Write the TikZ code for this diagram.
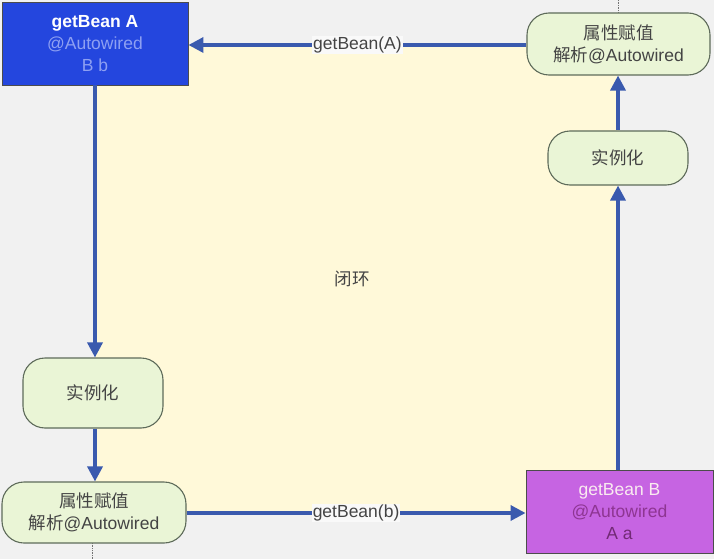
\documentclass[tikz,border=0pt]{standalone}
\usepackage{fontspec}
\setmainfont{Liberation Sans}
\newfontfamily\cjk{Noto Sans CJK SC}
\usetikzlibrary{arrows.meta}
\definecolor{bggray}{HTML}{F1F1F1}
\definecolor{loopyellow}{HTML}{FFF9D9}
\definecolor{stepgreen}{HTML}{EAF5D6}
\definecolor{stepborder}{HTML}{5E6B5A}
\definecolor{beanblue}{HTML}{2446DE}
\definecolor{beanbluetext}{HTML}{8EA0F2}
\definecolor{beanpurple}{HTML}{C664E2}
\definecolor{beanpurpletext}{HTML}{8E3592}
\definecolor{arrowblue}{HTML}{3A5AAE}
\definecolor{labelgray}{HTML}{444444}
\tikzset{
  x=1pt, y=-1pt,
  stepbox/.style={draw=stepborder, line width=1.1pt, fill=stepgreen, rounded corners=22pt,
    font=\fontsize{17.5}{22}\selectfont, text=labelgray, align=center, inner sep=0pt},
  beanbox/.style={draw=black!70, line width=0.9pt, align=center, inner sep=0pt,
    font=\fontsize{17.5}{22}\selectfont},
  flow/.style={draw=arrowblue, line width=3.4pt, -{Triangle[length=15pt,width=15pt]}},
  flowlabel/.style={fill=bggray!40!white, font=\fontsize{17.5}{21}\selectfont, text=labelgray, inner sep=1pt},
}
\begin{document}
\begin{tikzpicture}
\useasboundingbox (0,0) rectangle (720,559);
\fill[bggray] (0,0) rectangle (720,559);
\fill[white] (714,0) rectangle (720,559);
\fill[loopyellow] (95,45) rectangle (618,513);
\draw[densely dotted, black!55, line width=0.7pt] (618,0) -- (618,13);
\draw[densely dotted, black!55, line width=0.7pt] (92,543) -- (92,559);

\node[beanbox, fill=beanblue, minimum width=186pt, minimum height=83pt] (beanA) at (95,43.5)
  {\textbf{\textcolor{white}{getBean A}}\\\textcolor{beanbluetext}{@Autowired}\\\textcolor{beanbluetext}{B b}};
\node[stepbox, minimum width=183pt, minimum height=62pt] (attrTR) at (618.5,44)
  {{\cjk 属性赋值}\\{\cjk 解析}@Autowired};
\node[stepbox, minimum width=140pt, minimum height=54pt] (instTR) at (618,158)
  {\cjk 实例化};
\node[stepbox, minimum width=140pt, minimum height=70pt] (instL) at (93,393)
  {\cjk 实例化};
\node[stepbox, minimum width=184pt, minimum height=61pt] (attrL) at (94,512.5)
  {{\cjk 属性赋值}\\{\cjk 解析}@Autowired};
\node[beanbox, fill=beanpurple, minimum width=187pt, minimum height=83pt] (beanB) at (619.5,511.5)
  {\textcolor{white!92!purple}{getBean B}\\\textcolor{beanpurpletext}{@Autowired}\\\textcolor{beanpurpletext!80!black}{A a}};
\node[font=\fontsize{17.5}{21}\selectfont\cjk, text=labelgray] (loop) at (352,279) {闭环};

\draw[flow] (attrTR.west |- 0,45) -- node[flowlabel]{getBean(A)} (beanA.east |- 0,45);
\draw[flow] (beanA.south -| 95,0) -- (instL.north -| 95,0);
\draw[flow] (instL.south -| 95,0) -- (attrL.north -| 95,0);
\draw[flow] (attrL.east |- 0,513) -- node[flowlabel]{getBean(b)} (beanB.west |- 0,513);
\draw[flow] (beanB.north -| 618,0) -- (instTR.south -| 618,0);
\draw[flow] (instTR.north -| 618,0) -- (attrTR.south -| 618,0);
\end{tikzpicture}
\end{document}
